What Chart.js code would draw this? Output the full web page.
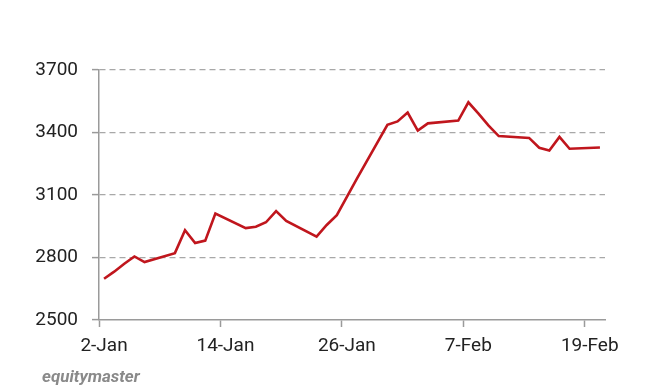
<!DOCTYPE html>
<html>
<head>
<meta charset="utf-8">
<script src="https://cdn.jsdelivr.net/npm/chart.js@4"></script>
<style>
  html, body { margin: 0; padding: 0; background: #fff; }
  #wrap { width: 650px; height: 390px; }
</style>
</head>
<body>
<div id="wrap"><canvas id="lineChart"></canvas></div>
<script>
// trading days, counted from 2-Jan
const days = [0, 1, 2, 3, 4, 7, 8, 9, 10, 11, 14, 15, 16, 17, 18, 21, 22, 23, 25,
  28, 29, 30, 31, 32, 35, 36, 37, 38, 39, 42, 43, 44, 45, 46, 49];
const values = [2698, 2732, 2770, 2805, 2778, 2821, 2931, 2869, 2881, 3011, 2941, 2948, 2969, 3023, 2976,
  2900, 2956, 3003, 3180, 3437, 3453, 3496, 3409, 3444, 3457, 3545, 3491, 3433, 3383,
  3374, 3327, 3314, 3379, 3322, 3328];
const tickLabels = ['2-Jan', '14-Jan', '26-Jan', '7-Feb', '19-Feb'];
const yTicks = [2500, 2800, 3100, 3400, 3700];

const points = days.map((d, i) => ({ x: d + 0.5, y: values[i] }));

// watermark under the axis
const watermark = {
  id: 'watermark',
  afterDraw(chart) {
    const c = chart.ctx;
    c.save();
    c.font = 'italic bold 17px Roboto';
    c.fillStyle = '#8a8a8a';
    c.textAlign = 'left';
    c.textBaseline = 'alphabetic';
    c.fillText('equitymaster', 42, 382);
    c.restore();
  }
};

const ctx = document.getElementById('lineChart').getContext('2d');
const chart = new Chart(ctx, {
  type: 'line',
  data: {
    datasets: [{
      data: points,
      borderColor: '#c0161d',
      borderWidth: 2.6,
      pointRadius: 0,
      tension: 0,
      fill: false
    }]
  },
  options: {
    responsive: true,
    maintainAspectRatio: false,
    animation: false,
    layout: { padding: { top: 70, right: 45, bottom: 0, left: 0 } },
    plugins: {
      legend: { display: false },
      tooltip: { enabled: false }
    },
    scales: {
      x: {
        type: 'linear',
        min: 0,
        max: 50,
        afterFit: s => { s.height = 70; },
        afterBuildTicks: s => { s.ticks = tickLabels.map((t, i) => ({ value: i * 12 })); },
        ticks: {
          callback: (v) => tickLabels[Math.round(v / 12)],
          color: '#222',
          font: { family: 'Roboto', size: 19 },
          padding: 8,
          labelOffset: 5,
          maxRotation: 0,
          autoSkip: false
        },
        grid: {
          drawOnChartArea: false,
          tickLength: 7,
          tickColor: '#9a9a9a',
          tickWidth: 1.5
        },
        border: { color: '#9a9a9a', width: 1.5 }
      },
      y: {
        min: 2500,
        max: 3700,
        afterFit: s => { s.width = 99; },
        afterBuildTicks: s => { s.ticks = yTicks.map(v => ({ value: v })); },
        ticks: {
          callback: v => String(v),
          color: '#222',
          font: { family: 'Roboto', size: 19 },
          padding: 14
        },
        grid: {
          color: c => c.tick && c.tick.value === 2500 ? 'rgba(0,0,0,0)' : '#a8a8a8',
          lineWidth: 1.2,
          tickBorderDash: [],
          tickLength: 7,
          tickColor: '#9a9a9a',
          tickWidth: 1.5
        },
        border: { color: '#9a9a9a', width: 1.5, dash: [6, 4] }
      }
    }
  },
  plugins: [watermark]
});
</script>
</body>
</html>
